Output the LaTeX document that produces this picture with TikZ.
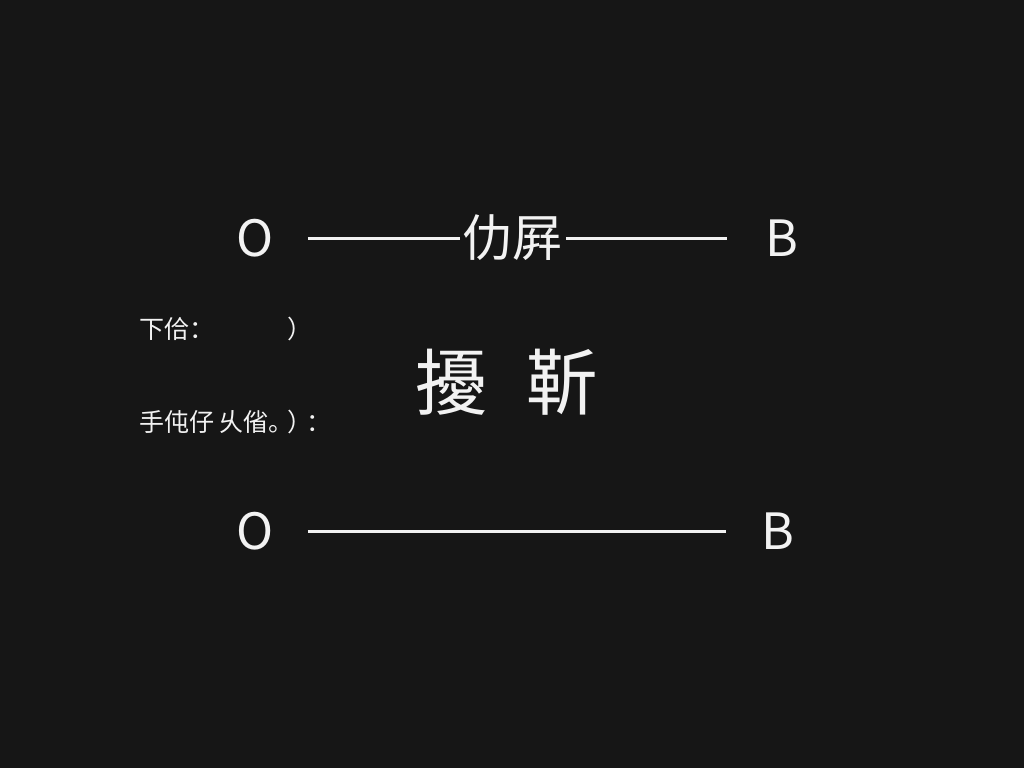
\documentclass[tikz,border=0pt]{standalone}
\usepackage{fontspec}
\newfontfamily\cjk{Noto Sans CJK SC}
\usepackage{tikz}
\usetikzlibrary{positioning}
\definecolor{bgdark}{HTML}{161616}
\definecolor{inkwhite}{HTML}{F2F2F2}

\begin{document}
\begin{tikzpicture}[x=1pt, y=-1pt, thick,
    letter/.style={text=inkwhite, font=\cjk\fontsize{50}{50}\selectfont, inner sep=0pt},
    note/.style={text=inkwhite, font=\cjk\fontsize{25}{25}\selectfont, inner sep=0pt, anchor=west},
    wire/.style={draw=inkwhite, line width=3pt}]
        % Background
        \fill[bgdark] (0,0) rectangle (1024,768);
        \useasboundingbox (0,0) rectangle (1024,768);

        % Top row
        \node[letter] (otop) at (255,238) {O};
        \node[letter] (mid) at (512,238) {仂屛};
        \node[letter] (btop) at (782,238) {B};

        % Left notes
        \node[note] (first) at (139,329) {下佮：\hspace{73pt}）};
        \node[note] (second) at (139,422) {手伅仔\hspace{4pt}乆偗。\hspace{-6pt}）\hspace{-6pt}：};

        % Big title in the middle
        \node[letter, font=\cjk\fontsize{72}{72}\selectfont] (title) at (507,382) {擾\hspace{40pt}靳};

        % Bottom row
        \node[letter] (obot) at (255,531) {O};
        \node[letter] (bbot) at (778,531) {B};

        % Connectors
        \draw[wire, shorten <=34pt, shorten >=2pt] (otop) -- (mid);
        \draw[wire, shorten <=4pt, shorten >=38pt] (mid) -- (btop);
        \draw[wire, shorten <=34pt, shorten >=35pt] (obot) -- (bbot);
    \end{tikzpicture}
\end{document}
